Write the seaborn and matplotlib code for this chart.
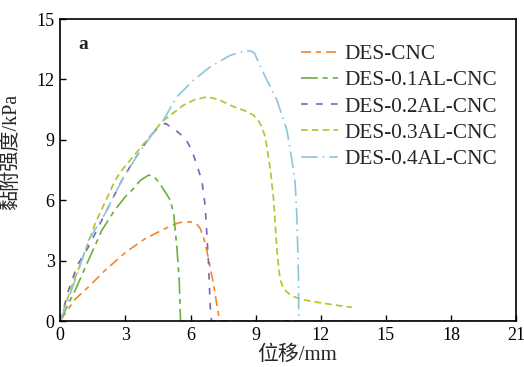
import numpy as np
import pandas as pd
import matplotlib
matplotlib.use("Agg")
import matplotlib.pyplot as plt
import seaborn as sns

# Displacement (mm) / adhesion strength (kPa) curves
x_cnc = [0, 0.23, 0.7, 1.3, 2.07, 3.04, 3.92, 4.84, 5.2, 5.45, 5.7, 6.0, 6.25, 6.45, 6.68, 6.9,
         7.05, 7.2, 7.34, 12, 21]
y_cnc = [0, 0.4, 1.1, 1.7, 2.53, 3.44, 4.1, 4.6, 4.78, 4.88, 4.93, 4.93, 4.85, 4.6, 3.87, 2.7,
         1.9, 0.9, 0, 0, 0]

x_01 = [0, 0.3, 0.69, 1.3, 1.92, 2.5, 2.99, 3.3, 3.7, 4.07, 4.3, 4.5, 4.68, 4.9, 5.07, 5.22,
        5.37, 5.48, 5.54, 21]
y_01 = [0, 0.7, 1.54, 3.03, 4.52, 5.5, 6.17, 6.5, 7.0, 7.25, 7.2, 6.95, 6.67, 6.3, 6.0, 5.35,
        3.69, 2.04, 0, 0]

x_02 = [0, 0.4, 0.8, 1.3, 2.07, 2.84, 3.4, 3.92, 4.4, 4.84, 5.3, 5.76, 6.06, 6.52, 6.68, 6.83,
        6.91, 6.97, 21]
y_02 = [0, 1.6, 2.8, 3.69, 5.35, 7.0, 8.0, 8.83, 9.5, 9.82, 9.5, 9.07, 8.5, 7.0, 5.68, 2.87,
        0.7, 0, 0]

x_03 = [0, 0.46, 1.0, 1.61, 2.53, 2.84, 3.92, 4.68, 5.68, 6.2, 6.76, 7.3, 7.98, 8.5, 8.9, 9.1,
        9.29, 9.45, 9.59, 9.7, 9.83, 9.98, 10.05, 10.13, 10.3, 10.6, 11.05, 11.97, 13.43]
y_03 = [0, 1.54, 3.03, 4.85, 7.0, 7.5, 8.9, 9.9, 10.73, 11.0, 11.14, 11.0, 10.65, 10.45, 10.23,
        10.0, 9.65, 9.1, 8.16, 7.3, 6.0, 3.53, 2.8, 2.04, 1.6, 1.29, 1.09, 0.91, 0.68]

x_04 = [0, 0.69, 1.3, 2.07, 2.84, 3.61, 4.38, 4.76, 5.37, 6.14, 6.91, 7.83, 8.4, 8.75, 8.95,
        9.15, 9.44, 9.98, 10.44, 10.67, 10.82, 10.9, 10.98, 10.98, 21]
y_04 = [0, 2.04, 4.02, 5.35, 7.0, 8.33, 9.49, 10.0, 11.14, 11.97, 12.63, 13.2, 13.38, 13.43, 13.3,
        12.8, 12.14, 10.98, 9.49, 8.0, 6.84, 5.18, 1.87, 0, 0]

series = ["DES-CNC", "DES-0.1AL-CNC", "DES-0.2AL-CNC", "DES-0.3AL-CNC", "DES-0.4AL-CNC"]
xs = [x_cnc, x_01, x_02, x_03, x_04]
ys = [y_cnc, y_01, y_02, y_03, y_04]

colors = ["#F5852A", "#6DAE3E", "#7D62B0", "#BCBD2A", "#8CC6DE"]
dash_styles = [(6, 3, 3, 3), (10, 3, 3, 3), (4, 5), (4, 2.5), (10, 3, 1, 3)]

rows = []
for name, xv, yv in zip(series, xs, ys):
    for a, b in zip(xv, yv):
        rows.append({"series": name, "disp": a, "strength": b})
df = pd.DataFrame(rows)

sns.set_style("ticks")
plt.rcParams["font.family"] = ["Liberation Serif", "Noto Sans CJK SC"]

fig, ax = plt.subplots(figsize=(5.24, 3.67), dpi=100)
fig.subplots_adjust(left=0.115, right=0.985, top=0.948, bottom=0.125)

sns.lineplot(data=df, x="disp", y="strength", hue="series", style="series",
             hue_order=series, style_order=series, palette=colors,
             dashes=dash_styles, sort=False, estimator=None,
             linewidth=1.2, ax=ax)

ax.set_xlim(0, 21)
ax.set_ylim(0, 15)
ax.set_xticks(np.arange(0, 22, 3))
ax.set_yticks(np.arange(0, 16, 3))
ax.tick_params(direction="in", length=4, width=1, labelsize=13, pad=4, colors="black")
for s in ax.spines.values():
    s.set_linewidth(1.2)
    s.set_color("black")

ax.set_xlabel("位移/mm", fontsize=15, labelpad=-1)
ax.xaxis.set_label_coords(0.52, -0.08)
ax.set_ylabel("黏附强度/kPa", fontsize=14.5, labelpad=5)
ax.yaxis.set_label_coords(-0.085, 0.56)

ax.text(0.04, 0.915, "a", transform=ax.transAxes, fontsize=14, fontweight="bold",
        ha="left", va="center")

leg = ax.legend(loc="upper right", bbox_to_anchor=(1.0, 0.98), frameon=False,
                fontsize=15.3, handlelength=1.75, handletextpad=0.3, labelspacing=0.3)

fig.savefig("out.png", dpi=100)
